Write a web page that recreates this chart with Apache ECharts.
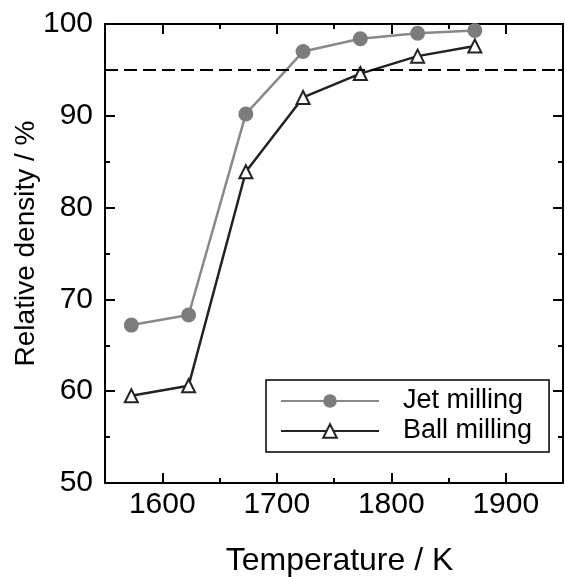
<!DOCTYPE html>
<html>
<head>
<meta charset="utf-8">
<script src="https://cdn.jsdelivr.net/npm/echarts@6/dist/echarts.min.js"></script>
<style>
html,body{margin:0;padding:0;background:#fff;}
#chart{width:565px;height:577px;}
</style>
</head>
<body>
<div id="chart"></div>
<script>
var temperature = [1573, 1623, 1673, 1723, 1773, 1823, 1873];
var jetMilling = [67.2, 68.3, 90.2, 97.0, 98.4, 99.0, 99.3];
var ballMilling = [59.5, 60.6, 83.9, 92.0, 94.6, 96.5, 97.6];
var xMajorTicks = [1600, 1700, 1800, 1900];
var xMinorTicks = [1650, 1750, 1850];
var threshold = 95;

var FONT = '"Liberation Sans", Arial, sans-serif';
var gridBox = {left: 105, right: 2, top: 24, bottom: 94, containLabel: false, outerBoundsMode: 'none'};

function pairs(xs, ys) { return xs.map(function (x, i) { return [x, ys[i]]; }); }
function plain(v) { return String(v); }

var axisLine = {show: true, lineStyle: {color: '#000', width: 2}};

var option = {
  backgroundColor: '#fff',
  animation: false,
  grid: [
    Object.assign({}, gridBox),
    Object.assign({}, gridBox)
  ],
  xAxis: [
    {
      type: 'value', gridIndex: 0, position: 'bottom', min: 1550, max: 1950,
      axisLine: axisLine,
      axisTick: {show: true, inside: true, length: 10, customValues: xMajorTicks, lineStyle: {color: '#000', width: 2}},
      axisLabel: {customValues: xMajorTicks, formatter: plain, fontSize: 30, fontFamily: FONT, color: '#000', margin: 7},
      splitLine: {show: false},
      name: 'Temperature / K', nameLocation: 'middle', nameGap: 62, nameMoveOverlap: false,
      nameTextStyle: {fontSize: 32, fontFamily: FONT, color: '#000', padding: [0, 0, 0, 11]}
    },
    {
      type: 'value', gridIndex: 0, position: 'top', min: 1550, max: 1950,
      axisLine: axisLine,
      axisTick: {show: true, inside: true, length: 10, customValues: xMajorTicks, lineStyle: {color: '#000', width: 2}},
      axisLabel: {show: false},
      splitLine: {show: false}
    },
    {
      type: 'value', gridIndex: 1, position: 'bottom', min: 1550, max: 1950,
      axisLine: {show: false},
      axisTick: {show: true, inside: true, length: 5, customValues: xMinorTicks, lineStyle: {color: '#000', width: 2}},
      axisLabel: {show: false},
      splitLine: {show: false}
    },
    {
      type: 'value', gridIndex: 1, position: 'top', min: 1550, max: 1950,
      axisLine: {show: false},
      axisTick: {show: true, inside: true, length: 5, customValues: xMinorTicks, lineStyle: {color: '#000', width: 2}},
      axisLabel: {show: false},
      splitLine: {show: false}
    }
  ],
  yAxis: [
    {
      type: 'value', gridIndex: 0, position: 'left', min: 50, max: 100, interval: 10,
      axisLine: axisLine,
      axisTick: {show: true, inside: true, length: 10, lineStyle: {color: '#000', width: 2}},
      minorTick: {show: true, splitNumber: 2, length: 5, lineStyle: {color: '#000', width: 2}},
      axisLabel: {fontSize: 30, fontFamily: FONT, color: '#000', margin: 12},
      splitLine: {show: false},
      name: 'Relative density / %', nameLocation: 'middle', nameGap: 65, nameMoveOverlap: false,
      nameTextStyle: {fontSize: 28, fontFamily: FONT, color: '#000', padding: [0, 0, 0, 20]}
    },
    {
      type: 'value', gridIndex: 0, position: 'right', min: 50, max: 100, interval: 10,
      axisLine: axisLine,
      axisTick: {show: true, inside: true, length: 10, lineStyle: {color: '#000', width: 2}},
      minorTick: {show: true, splitNumber: 2, length: 5, lineStyle: {color: '#000', width: 2}},
      axisLabel: {show: false},
      splitLine: {show: false}
    },
    {
      type: 'value', gridIndex: 1, min: 50, max: 100, interval: 10, show: false
    }
  ],
  legend: {
    orient: 'vertical', left: 266, top: 380,
    data: ['Jet milling', 'Ball milling'],
    borderColor: '#000', borderWidth: 1.5,
    padding: [6, 17, 6, 14],
    itemWidth: 98, itemHeight: 17, itemGap: 0,
    textStyle: {fontSize: 27, fontFamily: FONT, color: '#000', lineHeight: 30, padding: [0, 0, 0, 19]}
  },
  series: [
    {
      name: 'Ball milling', type: 'line', xAxisIndex: 0, yAxisIndex: 0,
      data: pairs(temperature, ballMilling),
      symbol: 'triangle', symbolSize: 13,
      lineStyle: {color: '#222', width: 2.5},
      itemStyle: {color: '#fff', borderColor: '#222', borderWidth: 2},
      markLine: {
        silent: true, symbol: 'none', label: {show: false},
        lineStyle: {color: '#000', width: 2, type: [13, 6]},
        data: [{yAxis: threshold}]
      },
      z: 2
    },
    {
      name: 'Jet milling', type: 'line', xAxisIndex: 0, yAxisIndex: 0,
      data: pairs(temperature, jetMilling),
      symbol: 'circle', symbolSize: 15,
      lineStyle: {color: '#898989', width: 2.5},
      itemStyle: {color: '#7c7c7c', borderColor: '#7c7c7c', borderWidth: 0},
      z: 3
    }
  ]
};

var chart = echarts.init(document.getElementById('chart'), null, {renderer: 'canvas'});
chart.setOption(option);
</script>
</body>
</html>
